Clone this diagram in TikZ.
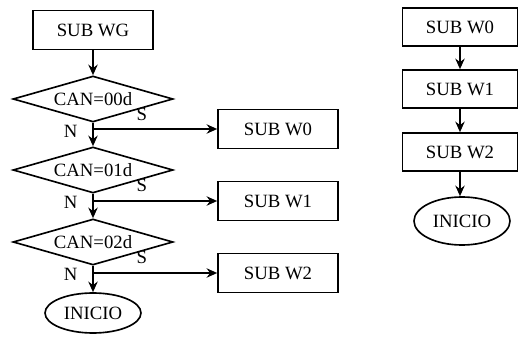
\documentclass[tikz,border=0pt]{standalone}
\usepackage{fontspec}
\setmainfont{Liberation Serif}
\usetikzlibrary{shapes.geometric,arrows.meta,positioning}

\tikzset{
  box/.style={draw,line width=1.4pt,minimum width=3.6cm,minimum height=1.17cm,inner sep=0pt},
  test/.style={draw,diamond,aspect=3.5,line width=1.4pt,minimum width=4.8cm,minimum height=1.38cm,inner sep=0pt},
  term/.style={draw,ellipse,line width=1.4pt,minimum width=2.88cm,minimum height=1.2cm,inner sep=0pt},
  flow/.style={-{Stealth[length=9pt,width=8pt]},line width=1.4pt}
}

\begin{document}
\begin{tikzpicture}[x=0.03cm,y=-0.03cm,font=\fontsize{16}{19}\selectfont]
\useasboundingbox (0,0) rectangle (520,341);

% Left flow: tests
\node[box] (wg) at (93,30) {SUB WG};
\node[test] (can0) at (93,99) {CAN=00d};
\node[test] (can1) at (93,170) {CAN=01d};
\node[test] (can2) at (93,242) {CAN=02d};
\node[term] (ini) at (93,313) {INICIO};

% Branches
\node[box] (w0) at (278,129) {SUB W0};
\node[box] (w1) at (278,201) {SUB W1};
\node[box] (w2) at (278,273) {SUB W2};

\draw[flow] (wg) -- (can0);
\draw[flow] (can0) -- (can1);
\draw[flow] (can1) -- (can2);
\draw[flow] (can2) -- (ini);

\draw[flow] (can0.south |- w0.west) -- (w0.west);
\draw[flow] (can1.south |- w1.west) -- (w1.west);
\draw[flow] (can2.south |- w2.west) -- (w2.west);

% S / N labels
\foreach \c in {can0,can1,can2} {
  \node[above right=1pt and 36pt,inner sep=1pt] at (\c.south) {S};
  \node[below left=1pt and 12pt,inner sep=1pt] at (\c.south) {N};
}

% Right flow
\node[box,minimum width=3.45cm,minimum height=1.14cm] (r0) at (460,27) {SUB W0};
\node[box,minimum width=3.45cm,minimum height=1.14cm] (r1) at (460,89) {SUB W1};
\node[box,minimum width=3.45cm,minimum height=1.14cm] (r2) at (460,152) {SUB W2};
\node[term,minimum height=1.44cm] (rini) at (462,221) {INICIO};

\draw[flow] (r0) -- (r1);
\draw[flow] (r1) -- (r2);
\draw[flow] (r2) -- (r2 |- rini.north);

\end{tikzpicture}
\end{document}
